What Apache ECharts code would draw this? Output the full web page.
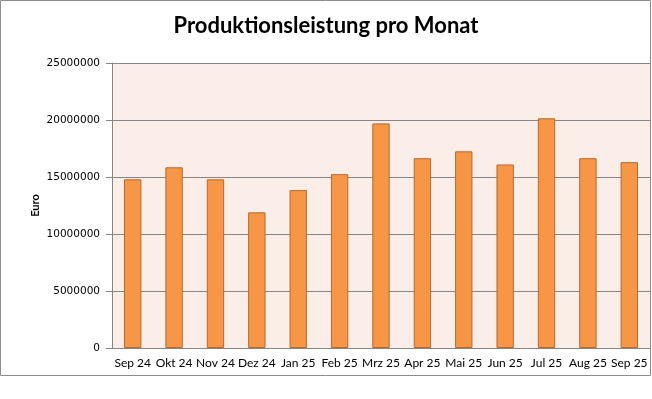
<!DOCTYPE html>
<html>
<head>
<meta charset="utf-8">
<script src="https://cdn.jsdelivr.net/npm/echarts@6/dist/echarts.min.js"></script>
<style>
  html, body { margin: 0; padding: 0; background: #fff; }
  #chart { width: 652px; height: 399px; }
</style>
</head>
<body>
<div id="chart"></div>
<script>
const months = ["Sep 24", "Okt 24", "Nov 24", "Dez 24", "Jan 25", "Feb 25", "Mrz 25",
  "Apr 25", "Mai 25", "Jun 25", "Jul 25", "Aug 25", "Sep 25"];
const production = [14800000, 15850000, 14800000, 11900000, 13850000, 15250000, 19700000,
  16650000, 17250000, 16100000, 20150000, 16650000, 16300000];

const chart = echarts.init(document.getElementById("chart"));

const option = {
  animation: false,
  title: {
    text: "Produktionsleistung pro Monat",
    left: "center",
    top: 10,
    textStyle: {
      fontFamily: "Lato",
      fontSize: 22,
      fontWeight: "bold",
      color: "#000",
    },
  },
  graphic: [
    {
      type: "rect",
      shape: { x: 0.5, y: 0.5, width: 650, height: 375 },
      style: { fill: "none", stroke: "#8c8c8c", lineWidth: 1 },
      silent: true,
    },
  ],
  grid: {
    left: 112,
    right: 2,
    top: 63,
    bottom: 51,
    show: true,
    backgroundColor: "#fbeee8",
    borderWidth: 0,
  },
  xAxis: {
    type: "category",
    data: months,
    axisLine: { lineStyle: { color: "#868686" } },
    axisTick: { show: false },
    axisLabel: {
      color: "#000",
      fontFamily: "Lato",
      fontSize: 12,
      margin: 9,
      interval: 0,
    },
  },
  yAxis: {
    type: "value",
    min: 0,
    max: 25000000,
    interval: 5000000,
    name: "Euro",
    nameLocation: "middle",
    nameGap: 71,
    nameMoveOverlap: false,
    nameTextStyle: {
      fontFamily: "Lato",
      fontWeight: "bold",
      fontSize: 11,
      color: "#000",
    },
    axisLine: { show: true, lineStyle: { color: "#868686" } },
    axisTick: { show: true, length: 6, lineStyle: { color: "#868686" } },
    axisLabel: {
      color: "#000",
      fontFamily: "DejaVu Sans",
      fontSize: 10.5,
      margin: 12,
      formatter: (v) => String(v),
    },
    splitLine: { lineStyle: { color: "#868686", width: 1 } },
  },
  series: [
    {
      type: "bar",
      data: production,
      barWidth: "42%",
      itemStyle: {
        color: "#f79646",
        borderColor: "#b8692e",
        borderWidth: 1,
      },
    },
  ],
};

chart.setOption(option);
</script>
</body>
</html>
